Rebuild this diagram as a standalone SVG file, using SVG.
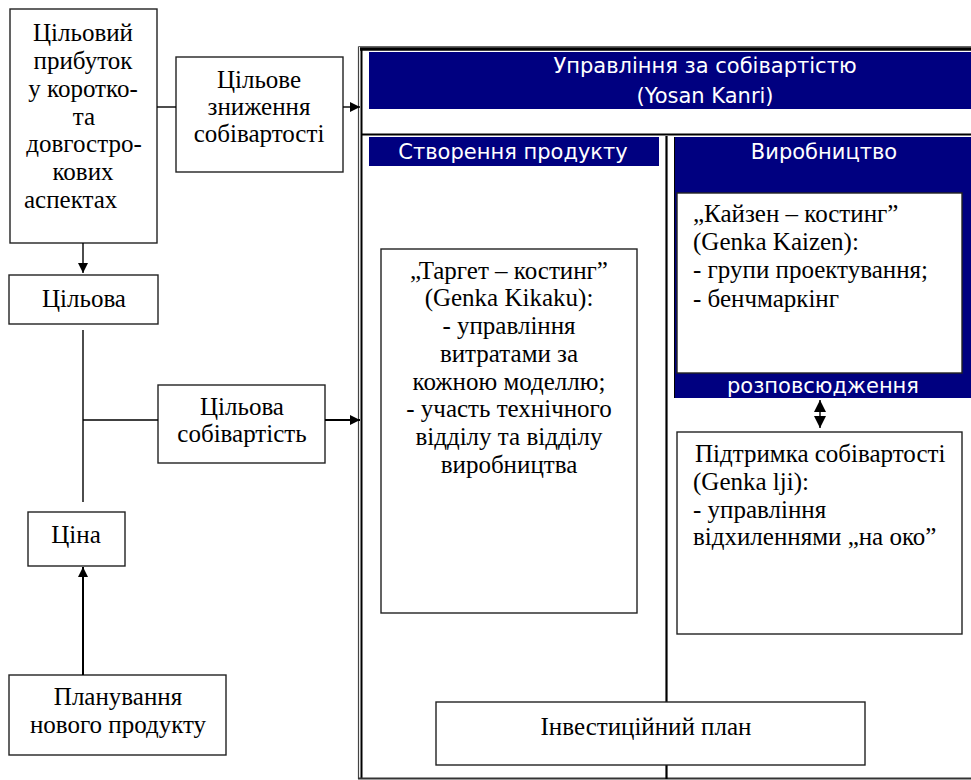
<svg xmlns="http://www.w3.org/2000/svg" width="971" height="780" viewBox="0 0 971 780">
<style>
.box{fill:#fff;stroke:#222;stroke-width:1.4}
.ser{font-family:"Liberation Serif","Times New Roman",serif;font-size:25px;fill:#000}
.c{text-anchor:middle}
.sans{font-family:"DejaVu Sans",Verdana,sans-serif;font-size:21px;fill:#fff}
.ban{fill:#000080}
.ln{stroke:#000;stroke-width:1.4;fill:none}
.ln2{stroke:#000;stroke-width:2;fill:none}
</style>
<defs>
<marker id="ah" viewBox="0 0 10 10" refX="10" refY="5" markerWidth="10" markerHeight="10" markerUnits="userSpaceOnUse" orient="auto"><path d="M0,0 L10,5 L0,10 z" fill="#000"/></marker>
<marker id="ah2" viewBox="0 0 12 12" refX="12" refY="6" markerWidth="12" markerHeight="12" markerUnits="userSpaceOnUse" orient="auto-start-reverse"><path d="M0,0 L12,6 L0,12 z" fill="#000"/></marker>
</defs>
<rect width="971" height="780" fill="#fff"/>

<g id="frame">
<path d="M358.5,46.5 H971" stroke="#666" stroke-width="1" fill="none"/>
<path d="M360,49 H971" stroke="#000" stroke-width="3.4" fill="none"/>
<path d="M358.5,46.5 V779" stroke="#444" stroke-width="1.2" fill="none"/>
<path d="M361.5,49 V779" stroke="#000" stroke-width="2" fill="none"/>
<path d="M358,778.5 H971" stroke="#333" stroke-width="2" fill="none"/>
<path d="M362,134.5 H971" stroke="#000" stroke-width="2" fill="none"/>
<path d="M666.5,136 V779" stroke="#000" stroke-width="2.2" fill="none"/>
</g>

<g id="yosan-kanri">
<rect class="ban" x="369" y="52" width="602" height="57"/>
<text class="sans c" x="705" y="73">Управління за собівартістю</text>
<text class="sans c" x="705" y="103">(Yosan Kanri)</text>
</g>

<g id="product-creation">
<rect class="ban" x="369" y="137" width="290" height="29"/>
<text class="sans c" x="513" y="159">Створення продукту</text>
</g>

<g id="production">
<rect class="ban" x="674" y="137" width="297" height="261"/>
<path d="M674.5,137 V398" stroke="#000" stroke-width="1" fill="none"/>
<text class="sans c" x="824" y="159">Виробництво</text>
<text class="sans c" x="823" y="393">розповсюдження</text>
</g>

<g id="kaizen">
<rect class="box" x="677" y="193" width="285" height="180" stroke="#000"/>
<text class="ser" x="693" y="222">„Кайзен – костинг”</text>
<text class="ser" x="693" y="250">(Genka Kaizen):</text>
<text class="ser" x="693" y="278">- групи проектування;</text>
<text class="ser" x="693" y="307">- бенчмаркінг</text>
</g>

<g id="target-costing">
<rect class="box" x="381" y="249" width="256" height="364"/>
<text class="ser c" x="509" y="279">„Таргет – костинг”</text>
<text class="ser c" x="509" y="306">(Genka Kikaku):</text>
<text class="ser c" x="509" y="334">- управління</text>
<text class="ser c" x="509" y="362">витратами за</text>
<text class="ser c" x="509" y="390">кожною моделлю;</text>
<text class="ser c" x="509" y="417">- участь технічного</text>
<text class="ser c" x="509" y="445">відділу та відділу</text>
<text class="ser c" x="509" y="473">виробництва</text>
</g>

<g id="cost-maintenance">
<rect class="box" x="677" y="432" width="285" height="202"/>
<text class="ser" x="695" y="462">Підтримка собівартості</text>
<text class="ser" x="693" y="490">(Genka lji):</text>
<text class="ser" x="693" y="518">- управління</text>
<text class="ser" x="693" y="545">відхиленнями „на око”</text>
</g>

<g id="investment-plan">
<rect class="box" x="436" y="702" width="429" height="63"/>
<text class="ser c" x="646" y="735">Інвестиційний план</text>
</g>

<g id="target-profit">
<rect class="box" x="10" y="9" width="147" height="234"/>
<text class="ser c" x="83" y="41">Цільовий</text>
<text class="ser c" x="83" y="69">прибуток</text>
<text class="ser c" x="83" y="97">у коротко-</text>
<text class="ser c" x="84" y="125">та</text>
<text class="ser c" x="84" y="152">довгостро-</text>
<text class="ser c" x="83" y="180">кових</text>
<text class="ser" x="24" y="208">аспектах</text>
</g>

<g id="cost-reduction">
<rect class="box" x="176" y="57" width="167" height="115"/>
<text class="ser c" x="259" y="88">Цільове</text>
<text class="ser c" x="259" y="115">зниження</text>
<text class="ser c" x="259" y="142">собівартості</text>
</g>

<g id="target">
<rect class="box" x="9" y="275" width="149" height="49"/>
<text class="ser c" x="84" y="307">Цільова</text>
</g>

<g id="target-cost">
<rect class="box" x="158" y="385" width="167" height="78"/>
<text class="ser c" x="242" y="415">Цільова</text>
<text class="ser c" x="242" y="442">собівартість</text>
</g>

<g id="price">
<rect class="box" x="28" y="512" width="97" height="54"/>
<text class="ser c" x="76" y="543">Ціна</text>
</g>

<g id="new-product">
<rect class="box" x="9" y="675" width="217" height="80"/>
<text class="ser c" x="118" y="705">Планування</text>
<text class="ser c" x="118" y="733">нового продукту</text>
</g>

<g id="connectors">
<path class="ln" d="M157,107 H176"/>
<path class="ln" d="M343,107 H360" marker-end="url(#ah)"/>
<path class="ln" d="M83,243 V273" marker-end="url(#ah)"/>
<path class="ln" d="M83,330 V502"/>
<path class="ln" d="M83,420 H158"/>
<path class="ln2" d="M325,420 H360" marker-end="url(#ah)"/>
<path class="ln2" d="M83,675 V567" marker-end="url(#ah)"/>
<path class="ln" d="M820,400 V428" marker-start="url(#ah2)" marker-end="url(#ah2)"/>
</g>
</svg>
